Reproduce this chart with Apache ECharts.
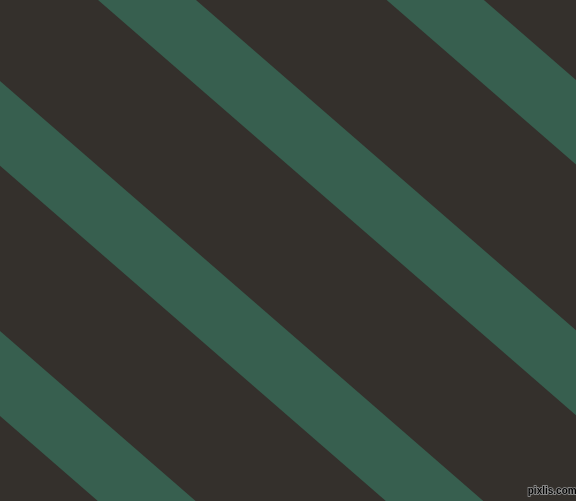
<!DOCTYPE html>
<html>
<head>
<meta charset="utf-8">
<script src="https://cdn.jsdelivr.net/npm/echarts@6/dist/echarts.min.js"></script>
<style>html,body{margin:0;padding:0;background:#34302c;}#c{width:576px;height:501px;}</style>
</head>
<body>
<div id="c"></div>
<script>
// Stripe data: each stripe is the band between two parallel lines y = slope*x + intercept
var stripeSlope = 0.869;
var stripeStart = [-420.5, -170.3, 81, 331];
var stripeEnd = [-336, -85.2, 165.7, 416];
var canvasX = [0, 576];
var canvasY = [0, 501];
var watermark = 'pixlis.com';

var stripeData = stripeStart.map(function (s, i) { return [s, stripeEnd[i]]; });

var chart = echarts.init(document.getElementById('c'), null, { renderer: 'canvas' });
chart.setOption({
  backgroundColor: '#34302c',
  animation: false,
  grid: { left: 0, right: 0, top: 0, bottom: 0 },
  xAxis: { type: 'value', min: canvasX[0], max: canvasX[1], show: false },
  yAxis: { type: 'value', min: canvasY[0], max: canvasY[1], inverse: true, show: false },
  series: [{
    type: 'custom',
    clip: true,
    data: stripeData,
    renderItem: function (params, api) {
      var b0 = api.value(0), b1 = api.value(1);
      var xa = canvasX[0] - 100, xb = canvasX[1] + 100;
      var pts = [
        api.coord([xa, stripeSlope * xa + b0]),
        api.coord([xb, stripeSlope * xb + b0]),
        api.coord([xb, stripeSlope * xb + b1]),
        api.coord([xa, stripeSlope * xa + b1])
      ];
      return { type: 'polygon', shape: { points: pts }, style: { fill: '#375f4f' } };
    }
  }],
  graphic: [{
    type: 'text',
    left: 527,
    top: 485,
    z: 100,
    style: {
      text: watermark,
      fill: '#000',
      font: 'bold 10px "Liberation Sans Narrow", "Liberation Sans", sans-serif',
      stroke: '#9a9a9a',
      lineWidth: 1.5
    }
  }]
});
</script>
</body>
</html>
